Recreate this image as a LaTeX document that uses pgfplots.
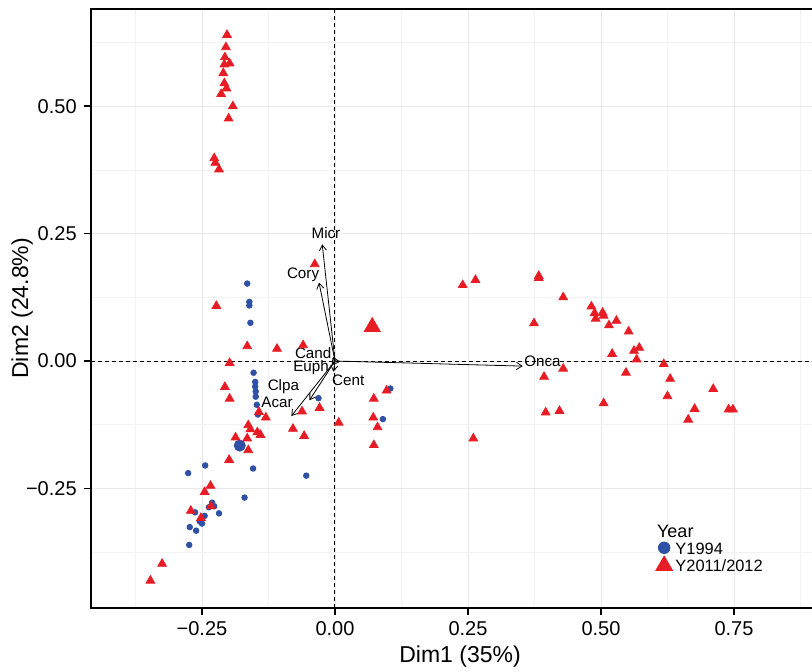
\documentclass[border=0pt]{standalone}
\usepackage{fontspec}
\setmainfont{Liberation Sans}
\usepackage{pgfplots}
\pgfplotsset{compat=1.18}
\usetikzlibrary{arrows.meta}
\definecolor{cblue}{RGB}{46,80,165}
\definecolor{cred}{RGB}{232,28,36}
\begin{document}
\begin{tikzpicture}
\begin{axis}[
  name=ax,
  at={(0,0)}, anchor=south west,
  scale only axis,
  width=370pt, height=299.35pt,
  xmin=-0.4592, xmax=0.9318,
  ymin=-0.4842, ymax=0.6909,
  xtick={-0.25,0,0.25,0.5,0.75},
  xticklabels={−0.25,0.00,0.25,0.50,0.75},
  ytick={-0.25,0,0.25,0.5},
  yticklabels={−0.25,0.00,0.25,0.50},
  minor xtick={-0.375,-0.125,0.125,0.375,0.625,0.875},
  minor ytick={-0.375,-0.125,0.125,0.375,0.625},
  grid=both,
  major grid style={black!9, line width=0.35pt},
  minor grid style={black!5, line width=0.3pt},
  minor tick length=0pt,
  major tick length=3.5pt,
  tick align=outside,
  xtick pos=bottom, ytick pos=left,
  tick style={black, line width=0.8pt},
  axis line style={black, line width=0.9pt},
  tick label style={font=\fontsize{10}{12}\selectfont},
  xlabel={Dim1 (35\%)},
  ylabel={Dim2 (24.8\%)},
  every axis x label/.style={at={(axis description cs:0.4991,0)}, yshift=-24.3pt, anchor=center, font=\fontsize{11.5}{13}\selectfont},
  every axis y label/.style={at={(axis description cs:0,0.5)}, xshift=-34.3pt, rotate=90, anchor=center, font=\fontsize{11.5}{13}\selectfont},
  legend style={at={(axis description cs:0.7632,0.112)}, anchor=north west, draw=none, fill=none, inner sep=0pt,
    row sep=-1pt, column sep=1pt, font=\fontsize{8.2}{9}\selectfont,
    nodes={inner sep=0.5pt, text height=6pt, text depth=1.5pt}},
  legend cell align=left,
  legend image code/.code={\draw[#1] plot coordinates {(0pt,0.9pt)};},
]
% zero lines
\addplot[black, line width=0.5pt, dash pattern=on 2pt off 1.5pt, forget plot] coordinates {(0,-0.4842) (0,0.6909)};
\addplot[black, line width=0.5pt, dash pattern=on 2pt off 1.5pt, forget plot] coordinates {(-0.4592,0) (0.9318,0)};

% Y1994
\addplot[only marks, mark=*, mark size=1.4pt, cblue, mark options={draw=none, fill=cblue}, forget plot] coordinates {
(-0.165,0.152) (-0.161,0.116) (-0.161,0.109) (-0.159,0.075)
(-0.153,-0.023) (-0.150,-0.041) (-0.150,-0.050) (-0.149,-0.060) (-0.149,-0.070) (-0.147,-0.086) (-0.145,-0.105)
(-0.031,-0.073) (0.104,-0.054) (0.090,-0.114)
(-0.154,-0.211) (-0.244,-0.205) (-0.276,-0.220) (-0.054,-0.225)
(-0.170,-0.268) (-0.231,-0.278) (-0.227,-0.285) (-0.237,-0.287) (-0.218,-0.299) (-0.263,-0.297)
(-0.245,-0.304) (-0.250,-0.319) (-0.254,-0.315) (-0.273,-0.326) (-0.261,-0.333) (-0.274,-0.361)
};
\addplot[only marks, mark=*, mark size=2.8pt, cblue, mark options={draw=none, fill=cblue}, forget plot] coordinates {(-0.179,-0.166)};

% Y2011/2012
\addplot[only marks, mark=triangle*, mark size=2.5pt, cred, mark options={draw=none, fill=cred}, forget plot] coordinates {
(-0.203,0.640) (-0.205,0.616) (-0.207,0.596) (-0.198,0.584) (-0.208,0.582) (-0.210,0.565) (-0.208,0.545)
(-0.204,0.535) (-0.214,0.524) (-0.192,0.500) (-0.200,0.476) (-0.227,0.398) (-0.225,0.389) (-0.218,0.376)
(-0.038,0.190) (-0.060,0.031) (-0.223,0.108) (-0.165,0.029) (-0.109,0.024) (-0.198,-0.004)
(-0.207,-0.051) (-0.198,-0.074) (-0.143,-0.100) (-0.130,-0.111) (-0.062,-0.099) (-0.029,-0.092)
(0.007,-0.121) (-0.079,-0.133) (-0.058,-0.147) (-0.163,-0.126) (-0.159,-0.134) (-0.146,-0.140)
(-0.140,-0.145) (-0.187,-0.150) (-0.165,-0.152) (-0.163,-0.175) (-0.199,-0.194) (-0.234,-0.245)
(-0.245,-0.257) (-0.233,-0.285) (-0.271,-0.294) (-0.252,-0.308) (-0.325,-0.398) (-0.347,-0.431)
(0.097,-0.058) (0.073,-0.074) (0.072,-0.111) (0.080,-0.130) (0.073,-0.165)
(0.240,0.149) (0.264,0.159) (0.383,0.167) (0.383,0.163) (0.429,0.125) (0.482,0.107) (0.488,0.094)
(0.503,0.095) (0.490,0.083) (0.505,0.089) (0.529,0.079) (0.515,0.070) (0.552,0.058) (0.374,0.074)
(0.521,0.014) (0.562,0.020) (0.572,0.026) (0.567,0.003) (0.429,-0.015) (0.393,-0.031) (0.547,-0.023)
(0.505,-0.083) (0.396,-0.101) (0.422,-0.098) (0.260,-0.152) (0.618,-0.006) (0.630,-0.035)
(0.711,-0.055) (0.625,-0.069) (0.676,-0.094) (0.664,-0.115) (0.740,-0.095) (0.748,-0.095)
};
\addplot[only marks, mark=triangle*, mark size=4.6pt, cred, mark options={draw=none, fill=cred}, forget plot] coordinates {(0.070,0.067)};

% variable arrows
\addplot[black, line width=0.4pt, -{Straight Barb[length=2.8pt,width=3.6pt]}, forget plot] coordinates {(0,0) (-0.024,0.229)};
\addplot[black, line width=0.4pt, -{Straight Barb[length=2.8pt,width=3.6pt]}, forget plot] coordinates {(0,0) (-0.030,0.154)};
\addplot[black, line width=0.4pt, -{Straight Barb[length=2.8pt,width=3.6pt]}, forget plot] coordinates {(0,0) (-0.003,0.008)};
\addplot[black, line width=0.4pt, -{Straight Barb[length=2.8pt,width=3.6pt]}, forget plot] coordinates {(0,0) (-0.006,-0.008)};
\addplot[black, line width=0.4pt, -{Straight Barb[length=2.8pt,width=3.6pt]}, forget plot] coordinates {(0,0) (-0.003,-0.021)};
\addplot[black, line width=0.4pt, -{Straight Barb[length=2.8pt,width=3.6pt]}, forget plot] coordinates {(0,0) (-0.048,-0.077)};
\addplot[black, line width=0.4pt, -{Straight Barb[length=2.8pt,width=3.6pt]}, forget plot] coordinates {(0,0) (-0.082,-0.108)};
\addplot[black, line width=0.4pt, -{Straight Barb[length=2.8pt,width=3.6pt]}, forget plot] coordinates {(0,0) (0.353,-0.010)};

\begin{scope}[every node/.style={font=\fontsize{7.6}{9}\selectfont, inner sep=0pt}]
\node at (axis cs:-0.017,0.251) {Micr};
\node at (axis cs:-0.060,0.169) {Cory};
\node at (axis cs:-0.041,0.016) {Cand};
\node at (axis cs:-0.045,-0.013) {Euph};
\node at (axis cs:0.025,-0.037) {Cent};
\node at (axis cs:-0.097,-0.050) {Clpa};
\node at (axis cs:-0.109,-0.082) {Acar};
\node at (axis cs:0.390,0.000) {Onca};
\end{scope}

\node[anchor=west, inner sep=0pt, font=\fontsize{9}{10}\selectfont] at (axis description cs:0.7649,0.1281) {Year};

\addlegendimage{only marks, mark=*, mark size=2.9pt, cblue, mark options={draw=none, fill=cblue}}
\addlegendentry{Y1994}
\addlegendimage{only marks, mark=triangle*, mark size=4.8pt, cred, mark options={draw=none, fill=cred}}
\addlegendentry{Y2011/2012}
\end{axis}
\pgfresetboundingbox
\path[use as bounding box] (-45.35pt,-31.65pt) rectangle (360.65pt,303.85pt);
\end{tikzpicture}
\end{document}
